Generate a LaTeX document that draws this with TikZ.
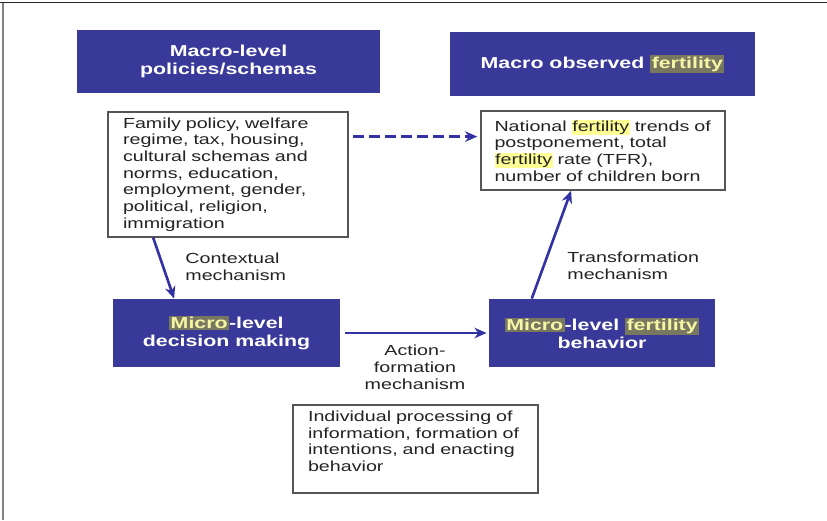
\documentclass[tikz,border=0pt]{standalone}
\usepackage{fontspec}
\setmainfont[FakeStretch=1.35]{Liberation Sans}
\usetikzlibrary{calc,arrows.meta}

\definecolor{boxblue}{RGB}{57,57,153}
\definecolor{arrowblue}{RGB}{50,50,165}
\definecolor{hlyellow}{RGB}{255,255,150}
\definecolor{hlolive}{RGB}{120,120,96}
\definecolor{hltext}{RGB}{245,245,165}
\definecolor{edgegray}{RGB}{85,85,85}
\definecolor{textgray}{RGB}{35,35,35}

% marked words, on white and on blue
\newcommand{\hlw}[1]{{\setlength{\fboxsep}{0.4pt}\colorbox{hlyellow}{#1}}}
\newcommand{\hlb}[1]{{\setlength{\fboxsep}{0.8pt}\colorbox{hlolive}{\textcolor{hltext}{#1}}}}

\begin{document}
\begin{tikzpicture}[x=0.02cm, y=-0.02cm, >={Stealth[length=7pt,width=6pt]},
macro/.style={fill=boxblue, text=white, font=\fontsize{9}{10.2}\selectfont\bfseries, align=center, inner sep=0},
info/.style={draw=edgegray, line width=0.8pt, fill=white, text=textgray, font=\fontsize{8.3}{9.5}\selectfont, align=left, inner xsep=0.3cm, inner ysep=0},
mech/.style={text=textgray, font=\fontsize{8.3}{9.5}\selectfont, inner sep=0},
link/.style={->, draw=arrowblue, line width=1.5pt}]
	\useasboundingbox (0,0) rectangle (827,520);
	\draw[line width=1.1pt, gray] (3,520) -- (3,2);
	\draw[line width=1.1pt, black!85] (0,2.5) -- (827,2.5);

	% macro level
	\node[macro, minimum width=6.06cm, minimum height=1.26cm] at (228.5,61.5) (policy) {Macro-level\\policies/schemas};
	\node[macro, minimum width=6.1cm, minimum height=1.28cm] at (602.5,64) (observed) {Macro observed \hlb{fertility}};
	\node[info, text width=4.2cm, minimum height=2.5cm] at (228,174.5) (family) {Family policy, welfare\\regime, tax, housing,\\cultural schemas and\\norms, education,\\employment, gender,\\political, religion,\\immigration};
	\node[info, inner xsep=0.27cm, text width=4.34cm, minimum height=1.58cm] at (603,150.5) (national) {National \hlw{fertility} trends of\\postponement, total\\\hlw{fertility} rate (TFR),\\number of children born};

	% micro level
	\node[macro, minimum width=4.54cm, minimum height=1.36cm] at (226.5,333) (decision) {\hlb{Micro}-level\\decision making};
	\node[macro, minimum width=4.52cm, minimum height=1.36cm] at (602,333) (behavior) {\hlb{Micro}-level \hlb{fertility}\\behavior};
	\node[info, text width=4.3cm, minimum height=1.76cm] at (415.5,449) (indiv) {Individual processing of\\information, formation of\\intentions, and enacting\\behavior\rule[-9pt]{0pt}{0pt}};

	% mechanisms
	\coordinate (dashfrom) at ($(family.north east)!0.2!(family.south east)$);
	\draw[link, line width=1.3pt, dash pattern=on 6.3pt off 2.8pt, shorten <=0.08cm, shorten >=0.06cm] (dashfrom) -- (dashfrom -| national.west);
	\draw[link] ($(family.south west)!0.19!(family.south east)$) -- ($(decision.north west)!0.27!(decision.north east)$);
	\draw[link, shorten <=0.1cm, shorten >=0.04cm] (decision) -- (behavior);
	\draw[link] ($(behavior.north west)!0.19!(behavior.north east)$) -- ($(national.south west)!0.37!(national.south east)$);

	\node[mech, anchor=north west, align=left] at (185,253) (context) {Contextual\\mechanism};
	\node[mech, anchor=north west, align=left] at (567,252) (transform) {Transformation\\mechanism};
	\node[mech, anchor=north, align=center] at (415,345) (action) {Action-\\formation\\mechanism};
\end{tikzpicture}
\end{document}
